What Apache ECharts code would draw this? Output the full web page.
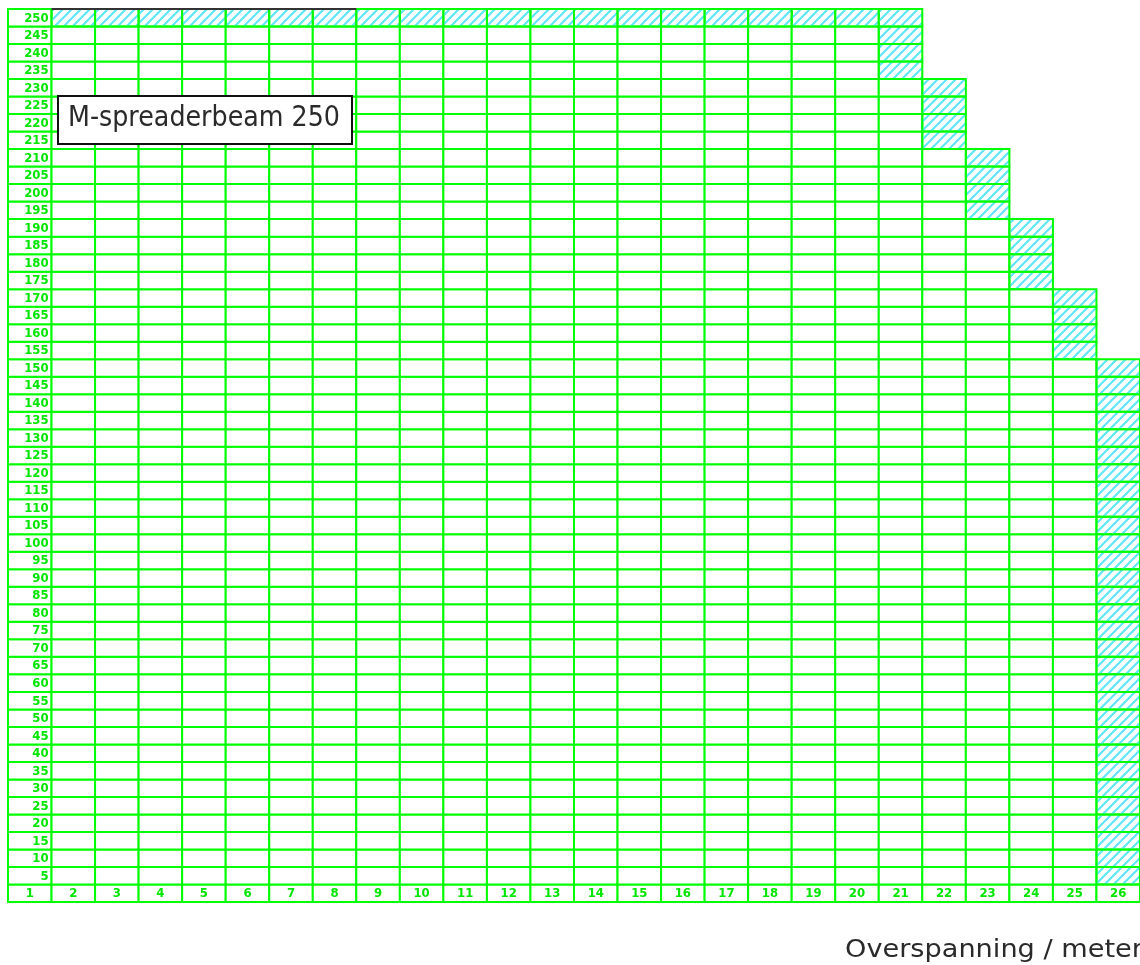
<!DOCTYPE html>
<html>
<head>
<meta charset="utf-8">
<title>M-spreaderbeam 250</title>
<script src="https://cdn.jsdelivr.net/npm/echarts@6/dist/echarts.min.js"></script>
<style>
  html, body { margin: 0; padding: 0; background: #fff; }
  #chart { width: 1140px; height: 965px; }
</style>
</head>
<body>
<div id="chart"></div>
<script>
// kolommen (overspanning in meter) en rijen (last)
const colLabels = ['1','2','3','4','5','6','7','8','9','10','11','12','13',
  '14','15','16','17','18','19','20','21','22','23','24','25','26'];
const rowLabels = ['5','10','15','20','25','30','35','40','45','50',
  '55','60','65','70','75','80','85','90','95','100',
  '105','110','115','120','125','130','135','140','145','150',
  '155','160','165','170','175','180','185','190','195','200',
  '205','210','215','220','225','230','235','240','245','250'];
// hoogste rij per kolom
const colTop = [250,250,250,250,250,250,250,250,250,250,250,250,250,
  250,250,250,250,250,250,250,250,230,210,190,170,150];
// gearceerd bereik per kolom (van / tot)
const hatchFrom = [null,250,250,250,250,250,250,250,250,250,250,250,250,
  250,250,250,250,250,250,250,235,215,195,175,155,5];
const hatchTo = [null,250,250,250,250,250,250,250,250,250,250,250,250,
  250,250,250,250,250,250,250,250,230,210,190,170,150];
// donkere bovenrand over kolom 2 t/m 8
const darkEdge = [[2, 8]];

const GREEN = '#00ff00';
const LABEL_GREEN = '#00e600';

// arceerpatroon
const hatch = document.createElement('canvas');
hatch.width = 9; hatch.height = 9;
(function () {
  const c = hatch.getContext('2d');
  c.strokeStyle = '#5fe6f7';
  c.lineWidth = 2.2;
  c.beginPath();
  c.moveTo(-1, 10); c.lineTo(10, -1);
  c.moveTo(-1, 1); c.lineTo(1, -1);
  c.moveTo(8, 10); c.lineTo(10, 8);
  c.stroke();
})();

function fitScale(text, font, target) {
  const c = document.createElement('canvas').getContext('2d');
  c.font = font;
  return target / c.measureText(text).width;
}

// cellen opbouwen: [kolom, rij, soort] ; soort 0=leeg 1=arcering 2=rijlabel 3=kolomlabel
const cells = [];
colLabels.forEach((lab, c) => {
  cells.push([c, 0, 3]);
  rowLabels.forEach((r, i) => {
    const v = +r;
    if (v > colTop[c]) return;
    let kind = 0;
    if (c === 0) kind = 2;
    else if (hatchFrom[c] !== null && v >= hatchFrom[c] && v <= hatchTo[c]) kind = 1;
    cells.push([c, i + 1, kind]);
  });
});

const myChart = echarts.init(document.getElementById('chart'));

const boxText = 'M-spreaderbeam 250';
const boxFont = '29px "DejaVu Sans"';
const axisText = 'Overspanning / meter';
const axisFont = '25px "DejaVu Sans"';

const option = {
  animation: false,
  grid: { left: 8, top: 9, width: 26 * 43.87, height: 893 },
  xAxis: { type: 'value', min: 0, max: 26, show: false },
  yAxis: { type: 'value', min: 0, max: rowLabels.length + 1, show: false },
  series: [
    {
      type: 'custom',
      clip: false,
      data: cells,
      renderItem(params, api) {
        const c = api.value(0), r = api.value(1), kind = api.value(2);
        const p0 = api.coord([c, r + 1]);
        const p1 = api.coord([c + 1, r]);
        const children = [{
          type: 'rect',
          shape: { x: p0[0], y: p0[1], width: p1[0] - p0[0], height: p1[1] - p0[1] },
          style: {
            fill: kind === 1 ? { image: hatch, repeat: 'repeat' } : '#fff',
            stroke: GREEN,
            lineWidth: 2
          }
        }];
        if (kind === 2 || kind === 3) {
          const txt = kind === 2 ? rowLabels[r - 1] : colLabels[c];
          children.push({
            type: 'text',
            z2: 10,
            style: {
              text: txt,
              x: kind === 2 ? p1[0] - 3 : (p0[0] + p1[0]) / 2,
              y: (p0[1] + p1[1]) / 2 + 0.5,
              align: kind === 2 ? 'right' : 'center',
              verticalAlign: 'middle',
              fill: LABEL_GREEN,
              font: 'bold 13px "DejaVu Sans Condensed"'
            }
          });
        }
        return { type: 'group', children };
      }
    },
    {
      type: 'custom',
      clip: false,
      z: 5,
      data: darkEdge,
      renderItem(params, api) {
        const top = rowLabels.length + 1;
        const a = api.coord([api.value(0) - 1, top]);
        const b = api.coord([api.value(1), top]);
        return {
          type: 'line',
          shape: { x1: a[0], y1: a[1], x2: b[0], y2: b[1] },
          style: { stroke: '#333', lineWidth: 1.8 }
        };
      }
    }
  ],
  graphic: [
    {
      type: 'rect',
      z: 100,
      shape: { x: 58, y: 96, width: 294, height: 48 },
      style: { fill: '#fff', stroke: '#111', lineWidth: 2 }
    },
    {
      type: 'text',
      z: 101,
      x: 68,
      y: 118,
      scaleX: fitScale(boxText, boxFont, 272),
      style: {
        text: boxText,
        font: boxFont,
        fill: '#2a2a2a',
        align: 'left',
        verticalAlign: 'middle'
      }
    },
    {
      type: 'text',
      z: 101,
      x: 845,
      y: 950,
      scaleX: fitScale(axisText, axisFont, 298),
      style: {
        text: axisText,
        font: axisFont,
        fill: '#2a2a2a',
        align: 'left',
        verticalAlign: 'middle'
      }
    }
  ]
};

myChart.setOption(option);
</script>
</body>
</html>
